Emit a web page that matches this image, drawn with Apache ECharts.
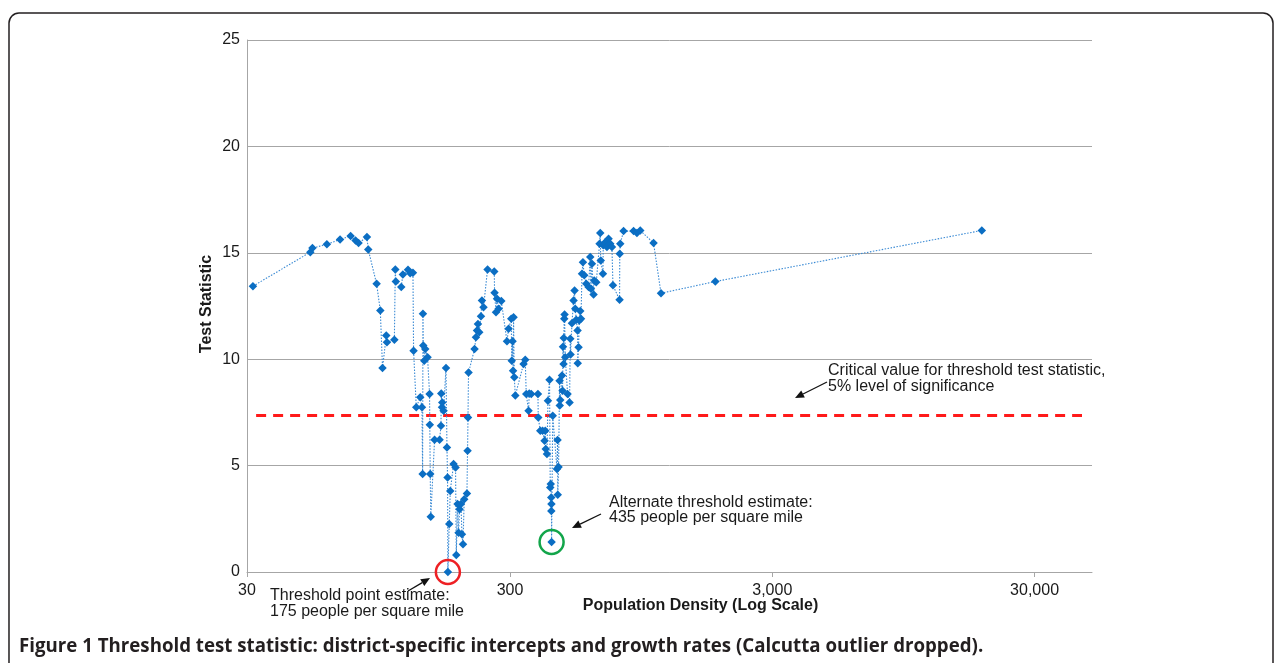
<!DOCTYPE html>
<html>
<head>
<meta charset="utf-8">
<script src="https://cdn.jsdelivr.net/npm/echarts@6/dist/echarts.min.js"></script>
<style>
html,body{margin:0;padding:0;background:#fff;}
#chart{width:1281px;height:663px;}
</style>
</head>
<body>
<div id="chart"></div>
<script>
// Population density (people per square mile), sorted ascending
const density = [
  31.6, 52.3, 53.3, 60.5, 67.9, 74.5, 77.8, 79.9, 86.0, 87.0,
  93.6, 96.7, 98.6, 101.9, 102.5, 109.4, 110.3, 110.8, 116.2, 117.9,
  123.3, 125.7, 128.8, 129.5, 132.6, 137.3, 139.4, 140.2, 140.6, 141.0,
  142.2, 143.5, 146.4, 149.0, 149.3, 149.9, 150.6, 155.7, 162.7, 164.7,
  165.1, 166.2, 166.6, 168.5, 172.1, 173.6, 174.5, 175.0, 177.1, 178.7,
  184.0, 187.2, 188.4, 190.5, 192.2, 193.9, 196.3, 198.0, 199.8, 202.0,
  206.9, 208.0, 208.8, 209.8, 221.2, 223.9, 226.0, 227.9, 230.5, 234.0,
  236.0, 239.3, 247.9, 263.0, 263.7, 267.0, 269.3, 273.2, 279.7, 294.0,
  298.2, 305.3, 306.6, 308.8, 310.2, 311.5, 313.5, 316.3, 340.1, 345.1,
  348.2, 355.4, 357.5, 363.8, 385.9, 386.9, 393.8, 401.9, 409.0, 411.5,
  413.2, 417.6, 421.3, 427.2, 429.9, 431.9, 433.7, 433.9, 434.5, 435.0,
  439.4, 456.0, 458.5, 459.2, 462.5, 466.6, 467.4, 469.4, 476.5, 479.1,
  480.8, 483.3, 484.1, 486.2, 487.5, 490.5, 500.6, 509.4, 512.6, 513.8,
  520.2, 527.5, 532.1, 535.4, 540.1, 546.4, 547.4, 551.1, 554.6, 559.4,
  563.0, 568.0, 572.9, 579.4, 589.8, 601.7, 610.8, 614.6, 619.9, 628.9,
  632.6, 643.9, 662.9, 666.8, 669.8, 682.8, 684.6, 696.8, 707.3, 717.2,
  728.0, 738.9, 745.4, 790.1, 791.5, 795.0, 818.3, 893.4, 920.3, 947.2,
  1064.6, 1136.7, 1830.8, 19000
];
// Threshold test statistic at each density
const testStat = [
  13.43, 15.03, 15.22, 15.40, 15.63, 15.79, 15.58, 15.46, 15.74, 15.15,
  13.54, 12.29, 9.59, 11.11, 10.80, 10.91, 14.22, 13.65, 13.39, 13.98,
  14.20, 14.04, 14.06, 10.40, 7.74, 8.21, 7.74, 4.60, 12.13, 10.64,
  9.93, 10.48, 10.09, 8.37, 6.92, 4.60, 2.60, 6.21, 6.21, 6.87,
  8.39, 7.74, 7.97, 7.58, 9.59, 5.85, 4.44, 0.00, 2.25, 3.81,
  5.07, 4.91, 0.80, 3.19, 1.85, 2.95, 3.19, 1.77, 1.30, 3.42,
  3.69, 5.70, 7.26, 9.37, 10.48, 11.03, 11.35, 11.66, 11.27, 12.02,
  12.76, 12.44, 14.22, 14.12, 13.12, 12.21, 12.84, 12.37, 12.73, 10.84,
  11.43, 11.90, 9.93, 10.84, 9.46, 11.97, 9.15, 8.29, 9.78, 9.97,
  8.37, 7.58, 8.39, 8.37, 8.37, 7.26, 6.64, 6.64, 6.17, 6.64,
  5.78, 5.54, 8.05, 9.03, 3.97, 4.13, 3.50, 2.87, 3.19, 1.41,
  7.34, 4.84, 6.20, 3.63, 4.94, 8.99, 7.82, 8.08, 9.23, 8.52,
  10.59, 9.78, 11.00, 11.90, 12.10, 10.09, 8.37, 7.97, 10.96, 10.22,
  11.69, 12.76, 13.23, 12.37, 11.85, 11.35, 9.81, 10.56, 11.82, 12.26,
  11.90, 14.02, 14.56, 13.94, 13.55, 13.39, 14.80, 13.31, 14.49, 13.04,
  13.70, 13.62, 15.43, 15.93, 14.64, 14.02, 15.35, 15.50, 15.27, 15.66,
  15.43, 15.27, 13.47, 12.79, 14.96, 15.43, 16.02, 16.02, 15.93, 16.05,
  15.46, 13.10, 13.65, 16.05
];
// Critical value line (5% level) and its drawn extent
const criticalValue = 7.35;
const criticalExtent = [32.5, 45800];
// Highlighted estimates
const thresholdPoint = [175, 0.0];
const alternatePoint = [435, 1.41];
// Axes
const xMin = 30, xMax = 50000;
const yMin = 0, yMax = 25, yStep = 5;
const xTitle = 'Population Density (Log Scale)';
const yTitle = 'Test Statistic';

const FONT = '"Liberation Sans", Arial, Helvetica, sans-serif';
const TXT = '#1a1a1a';

const chart = echarts.init(document.getElementById('chart'), null, {renderer: 'canvas'});

const seriesData = density.map((d, i) => [d, testStat[i]]);

const option = {
  animation: false,
  backgroundColor: '#fff',
  grid: {left: 247, right: 189, top: 40, bottom: 91, containLabel: false},
  xAxis: {
    type: 'log',
    logBase: 10,
    min: xMin,
    max: xMax,
    interval: 1,
    axisLine: {show: true, lineStyle: {color: '#a6a6a6', width: 1}},
    axisTick: {show: true, length: 5, lineStyle: {color: '#a6a6a6'}},
    splitLine: {show: false},
    minorTick: {show: false},
    axisLabel: {
      fontFamily: FONT, fontSize: 16, color: TXT, margin: 11,
      showMaxLabel: false,
      formatter: function (v) {
        const r = Number(Number(v).toPrecision(1));
        return r.toLocaleString('en-US');
      }
    }
  },
  yAxis: {
    type: 'value',
    min: yMin,
    max: yMax,
    interval: yStep,
    axisLine: {show: true, lineStyle: {color: '#a6a6a6', width: 1}},
    axisTick: {show: false},
    splitLine: {show: true, lineStyle: {color: '#a6a6a6', width: 1}},
    axisLabel: {fontFamily: FONT, fontSize: 16, color: TXT, margin: 7}
  },
  series: [
    {
      type: 'line',
      name: 'critical',
      data: [[criticalExtent[0], criticalValue], [criticalExtent[1], criticalValue]],
      symbol: 'none',
      lineStyle: {color: '#ff1a1a', width: 3, type: [10, 7]},
      z: 1,
      silent: true
    },
    {
      type: 'line',
      name: 'Test statistic',
      data: seriesData,
      symbol: 'diamond',
      symbolSize: 8.5,
      showSymbol: true,
      itemStyle: {color: '#0b6ec3'},
      lineStyle: {color: '#3a8ad4', width: 1.1, type: [1.5, 1.5]},
      z: 3
    }
  ]
};
chart.setOption(option);

function arrow(x1, y1, x2, y2) {
  const a = Math.atan2(y2 - y1, x2 - x1);
  const L = 9, W = 4;
  const bx = x2 - L * Math.cos(a), by = y2 - L * Math.sin(a);
  return [
    {type: 'line', shape: {x1: x1, y1: y1, x2: bx, y2: by}, style: {stroke: '#111', lineWidth: 1.3}, z: 20},
    {type: 'polygon', shape: {points: [[x2, y2], [bx - W * Math.sin(a), by + W * Math.cos(a)], [bx + W * Math.sin(a), by - W * Math.cos(a)]]}, style: {fill: '#111'}, z: 20}
  ];
}
function label(text, x, y, lh) {
  return {type: 'text', x: x, y: y, z: 20, style: {text: text, font: '16px ' + FONT, fill: TXT, lineHeight: lh, align: 'left', verticalAlign: 'top'}};
}

const pRed = chart.convertToPixel({gridIndex: 0}, thresholdPoint);
const pGreen = chart.convertToPixel({gridIndex: 0}, alternatePoint);

const graphics = [
  {type: 'rect', shape: {x: 9, y: 13, width: 1264, height: 720, r: 10}, style: {fill: 'none', stroke: '#231f20', lineWidth: 1.5}, z: 0, silent: true},
  {type: 'text', x: 19, y: 647, z: 20, style: {text: 'Figure 1 Threshold test statistic: district-specific intercepts and growth rates (Calcutta outlier dropped).', font: 'bold 18.7px "Open Sans", "Liberation Sans", sans-serif', fill: '#231f20', verticalAlign: 'middle', align: 'left'}},
  {type: 'text', x: 700.5, y: 606, z: 20, style: {text: xTitle, font: 'bold 16px ' + FONT, fill: TXT, align: 'center', verticalAlign: 'middle'}},
  {type: 'text', x: 207, y: 304, rotation: Math.PI / 2, z: 20, style: {text: yTitle, font: 'bold 16px ' + FONT, fill: TXT, align: 'center', verticalAlign: 'middle'}},
  {type: 'circle', shape: {cx: pRed[0], cy: pRed[1], r: 12}, style: {fill: 'none', stroke: '#ee2024', lineWidth: 2.5}, z: 15},
  {type: 'circle', shape: {cx: pGreen[0], cy: pGreen[1], r: 12}, style: {fill: 'none', stroke: '#12a54a', lineWidth: 2.5}, z: 15},
  label('Critical value for threshold test statistic,\n5% level of significance', 828, 363, 16),
  label('Alternate threshold estimate:\n435 people per square mile', 609, 495, 15),
  label('Threshold point estimate:\n175 people per square mile', 270, 588, 16)
].concat(arrow(827, 382, 795, 398))
 .concat(arrow(601, 514, 572, 528))
 .concat(arrow(408, 591, 430, 578));

chart.setOption({graphic: {elements: graphics}});
</script>
</body>
</html>
